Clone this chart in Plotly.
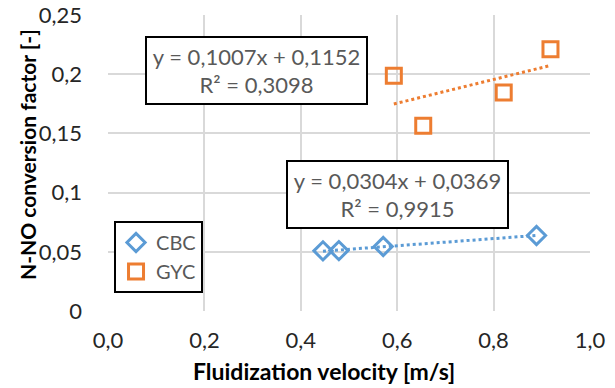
import numpy as np
import plotly.graph_objects as go

# Data
cbc_x = [0.446, 0.479, 0.571, 0.889]
cbc_y = [0.0508, 0.0510, 0.0545, 0.0638]
gyc_x = [0.593, 0.654, 0.821, 0.918]
gyc_y = [0.1986, 0.1565, 0.1846, 0.2211]
series_names = ["CBC", "GYC"]
eq_labels = ["y = 0,1007x + 0,1152<br>R² = 0,3098", "y = 0,0304x + 0,0369<br>R² = 0,9915"]
x_ticks = [0, 0.2, 0.4, 0.6, 0.8, 1.0]
x_ticktext = ["0,0", "0,2", "0,4", "0,6", "0,8", "1,0"]
y_ticks = [0, 0.05, 0.1, 0.15, 0.2, 0.25]
y_ticktext = ["0", "0,05", "0,1", "0,15", "0,2", "0,25"]

BLUE = "#5B9BD5"
ORANGE = "#ED7D31"
FONT = "Lato"

def trend(xs, ys):
    m, b = np.polyfit(xs, ys, 1)
    xx = np.array([min(xs), max(xs)])
    return xx, m * xx + b

fig = go.Figure()
fig.add_trace(go.Scatter(x=cbc_x, y=cbc_y, mode="markers", name=series_names[0],
                         marker=dict(symbol="diamond-open", size=14, color=BLUE,
                                     line=dict(width=3, color=BLUE))))
fig.add_trace(go.Scatter(x=gyc_x, y=gyc_y, mode="markers", name=series_names[1],
                         marker=dict(symbol="square-open", size=15, color=ORANGE,
                                     line=dict(width=3, color=ORANGE))))
tx, ty = trend(cbc_x, cbc_y)
fig.add_trace(go.Scatter(x=tx, y=ty, mode="lines", showlegend=False,
                         line=dict(color=BLUE, width=3, dash="dot")))
tx, ty = trend(gyc_x, gyc_y)
fig.add_trace(go.Scatter(x=tx, y=ty, mode="lines", showlegend=False,
                         line=dict(color=ORANGE, width=3, dash="dot")))

ann_style = dict(xref="x", yref="y", showarrow=False, align="center",
                 font=dict(family=FONT, size=22, color="#595959"),
                 bgcolor="white", bordercolor="black", borderwidth=2,
                 borderpad=0, width=219, height=65)
fig.add_annotation(x=0.308, y=0.2031, text=eq_labels[0], **ann_style)
fig.add_annotation(x=0.6006, y=0.0988, text=eq_labels[1], **ann_style)

fig.add_annotation(xref="paper", yref="paper", x=-0.168, y=0.527,
                   xanchor="center", yanchor="middle",
                   text="<b>N-NO conversion factor [-]</b>", textangle=-90,
                   showarrow=False, font=dict(family=FONT, size=21, color="black"))
fig.add_annotation(xref="paper", yref="paper", x=0.448, y=-0.204,
                   xanchor="center", yanchor="middle",
                   text="<b>Fluidization velocity [m/s]</b>",
                   showarrow=False, font=dict(family=FONT, size=23, color="black"))

fig.update_layout(
    template="none",
    width=615, height=388,
    margin=dict(l=108, r=25, t=15, b=77),
    paper_bgcolor="white", plot_bgcolor="white",
    font=dict(family=FONT, size=22, color="#262626"),
    showlegend=True,
    legend=dict(x=0.0125, y=0.304, xanchor="left", yanchor="top",
                bordercolor="black", borderwidth=2, bgcolor="white",
                font=dict(family=FONT, size=20, color="#595959"),
                itemsizing="trace"),
    xaxis=dict(range=[0, 1.0], tickvals=x_ticks, ticktext=x_ticktext,
               showgrid=True, gridcolor="#D9D9D9", gridwidth=2,
               zeroline=False, showline=False, ticks="", automargin=False,
               ticklabelstandoff=14),
    yaxis=dict(range=[0, 0.25], tickvals=y_ticks, ticktext=y_ticktext,
               showgrid=True, gridcolor="#D9D9D9", gridwidth=2,
               zeroline=False, showline=False, ticks="", automargin=False,
               ticklabelstandoff=25),
)

fig.write_html("out.html", config={"displayModeBar": False},
               post_script="document.body.style.margin='0px';")
